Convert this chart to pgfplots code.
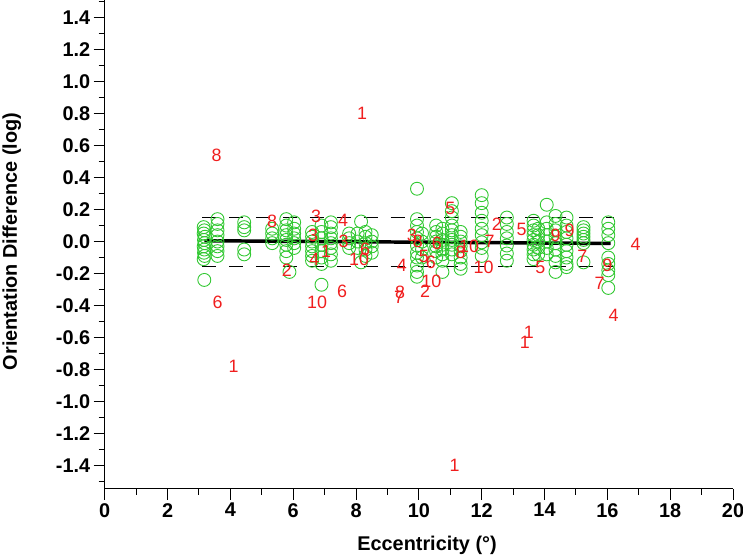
\documentclass[border=0pt]{standalone}
\usepackage{fontspec}
\setmainfont{Liberation Sans}
\usepackage{pgfplots}
\pgfplotsset{compat=1.18}
\usepackage{pgfplotstable}

\definecolor{ptgreen}{RGB}{50,200,50}
\definecolor{ptred}{RGB}{240,30,30}

% green circles: all measurements
\pgfplotstableread{
x y
3.15 0.09
3.17 0.07
3.15 0.05
3.19 0.03
3.16 0.01
3.18 -0.01
3.15 -0.03
3.17 -0.05
3.16 -0.07
3.18 -0.09
3.15 -0.11
3.17 -0.24
3.59 0.14
3.59 0.11
3.59 0.07
3.59 0.04
3.59 0.00
3.59 -0.03
3.59 -0.06
3.59 -0.09
4.44 0.12
4.44 0.09
4.44 0.07
4.44 -0.05
4.44 -0.08
5.33 0.08
5.33 0.05
5.33 0.02
5.33 -0.01
5.78 0.14
5.78 0.10
5.78 0.07
5.78 0.04
5.78 0.01
5.78 -0.02
5.78 -0.06
5.78 -0.10
6.03 0.12
6.03 0.08
6.03 0.05
6.03 0.02
6.03 -0.01
6.03 -0.04
5.88 -0.19
6.60 0.06
6.60 0.03
6.60 0.00
6.60 -0.03
6.60 -0.06
6.60 -0.09
6.60 -0.12
6.90 0.10
6.90 0.06
6.90 0.02
6.90 -0.02
6.90 -0.06
6.90 -0.10
6.90 -0.14
6.90 -0.27
7.20 0.12
7.20 0.09
7.20 0.05
7.20 0.02
7.20 -0.01
7.20 -0.04
7.20 -0.08
7.20 -0.12
7.78 0.05
7.78 0.02
7.78 -0.01
7.78 -0.04
8.05 0.05
8.05 0.00
8.05 -0.04
8.16 0.125
8.16 -0.13
8.30 0.06
8.30 0.03
8.30 -0.01
8.30 -0.05
8.30 -0.09
8.50 0.04
8.50 0.00
8.50 -0.03
8.50 -0.07
9.94 0.33
9.94 0.14
9.94 0.10
9.94 0.06
9.94 0.02
9.94 -0.025
9.94 -0.07
9.94 -0.10
9.94 -0.15
9.94 -0.19
9.94 -0.22
10.10 0.05
10.10 0.00
10.10 -0.05
10.10 -0.10
10.55 0.10
10.55 0.06
10.55 0.03
10.55 0.00
10.55 -0.03
10.55 -0.06
10.55 -0.10
10.75 0.08
10.75 0.05
10.75 0.01
10.75 -0.02
10.75 -0.05
10.75 -0.08
10.75 -0.12
10.75 -0.19
11.05 0.24
11.05 0.19
11.05 0.15
11.05 0.10
11.05 0.07
11.05 0.04
11.05 0.01
11.05 -0.02
11.05 -0.05
11.05 -0.08
11.33 0.06
11.33 0.03
11.33 0.00
11.33 -0.03
11.33 -0.06
11.33 -0.10
11.33 -0.14
11.33 -0.17
12.00 0.29
12.00 0.24
12.00 0.18
12.00 0.13
12.00 0.08
12.00 0.04
12.00 -0.005
12.00 -0.04
12.00 -0.09
12.80 0.15
12.80 0.11
12.80 0.06
12.80 0.02
12.80 -0.025
12.80 -0.075
12.80 -0.12
13.65 0.13
13.65 0.10
13.65 0.07
13.65 0.04
13.65 0.01
13.65 -0.02
13.65 -0.05
13.65 -0.08
13.65 -0.11
13.80 0.08
13.80 0.04
13.80 0.00
13.80 -0.04
13.80 -0.08
14.07 0.23
14.07 0.12
14.07 0.08
14.07 0.04
14.07 0.00
14.07 -0.04
14.07 -0.08
14.35 0.16
14.35 0.11
14.35 0.07
14.35 0.03
14.35 -0.01
14.35 -0.05
14.35 -0.09
14.35 -0.13
14.35 -0.19
14.70 0.15
14.70 0.10
14.70 0.06
14.70 0.02
14.70 -0.02
14.70 -0.06
14.70 -0.10
14.70 -0.14
14.70 -0.16
15.24 0.09
15.24 0.07
15.24 0.05
15.24 0.03
15.24 0.01
15.24 -0.01
15.24 -0.13
16.03 0.12
16.03 0.08
16.03 0.04
16.03 -0.01
16.03 -0.10
16.03 -0.14
16.03 -0.18
16.03 -0.21
16.03 -0.29
}\circles

% red numbers: subject means
\pgfplotstableread{
x y lab
8.19 0.80 1
3.56 0.54 8
3.59 -0.38 6
4.10 -0.78 1
5.80 -0.18 2
5.33 0.125 8
6.73 0.16 3
7.59 0.13 4
6.63 0.04 3
7.05 -0.06 1
7.60 0.00 3
6.67 -0.11 4
8.29 -0.05 6
8.10 -0.11 10
6.76 -0.38 10
7.56 -0.31 6
9.46 -0.15 4
9.40 -0.32 8
9.37 -0.35 7
10.20 -0.31 2
10.40 -0.25 10
9.78 0.04 3
9.97 0.00 8
10.16 -0.09 5
10.38 -0.13 6
10.57 -0.01 6
11.00 0.21 5
11.33 -0.07 8
11.60 -0.03 10
12.25 0.00 7
12.06 -0.16 10
12.48 0.11 2
13.27 0.075 5
13.87 -0.16 5
14.35 0.04 9
14.80 0.07 9
15.20 -0.09 7
16.00 -0.15 9
15.75 -0.26 7
16.90 -0.02 4
16.20 -0.46 4
13.50 -0.57 1
13.37 -0.63 1
11.14 -1.40 1
}\subjects

\begin{document}
\begin{tikzpicture}
\begin{axis}[
  name=ax,
  scale only axis,
  width=630bp, height=490bp,
  xmin=0, xmax=20, ymin=-1.545, ymax=1.51,
  axis x line*=bottom, axis y line*=left,
  axis line style={line width=1pt},
  xtick={0,2,...,20},
  minor xtick={1,3,...,19},
  ytick={-1.4,-1.2,-1,-0.8,-0.6,-0.4,-0.2,0,0.2,0.4,0.6,0.8,1,1.2,1.4},
  minor ytick={-1.5,-1.3,-1.1,-0.9,-0.7,-0.5,-0.3,-0.1,0.1,0.3,0.5,0.7,0.9,1.1,1.3,1.5},
  tick align=outside,
  major tick length=11bp, minor tick length=6bp,
  every tick/.style={black, line width=1pt},
  /pgf/number format/assume math mode=true,
  ticklabel style={font=\bfseries\fontsize{20}{20}\selectfont},
  yticklabel style={/pgf/number format/.cd, fixed, fixed zerofill, precision=1},
  xlabel={Eccentricity (°)},
  ylabel={Orientation Difference (log)},
  xlabel style={font=\bfseries\fontsize{20}{20}\selectfont, at={(axis description cs:0.513,-0.116)}, anchor=center},
  ylabel style={font=\bfseries\fontsize{20}{20}\selectfont, at={(axis description cs:-0.148,0.506)}, anchor=center},
  clip=false,
]
\addplot[only marks, mark=o, mark size=6.5bp, ptgreen, mark options={line width=0.9pt}] table {\circles};
\addplot[black, line width=1.4pt, dash pattern=on 14bp off 13bp] coordinates {(3.1,0.15) (16.2,0.15)};
\addplot[black, line width=1.4pt, dash pattern=on 14bp off 13bp] coordinates {(3.1,-0.155) (16.2,-0.155)};
\addplot[black, line width=3.5pt] coordinates {(3.17,0.005) (16.1,-0.012)};
\addplot[only marks, mark=none, nodes near coords, point meta=explicit symbolic,
  nodes near coords align={center},
  nodes near coords style={ptred, font=\fontsize{18}{18}\selectfont, inner sep=0pt}]
  table[meta=lab] {\subjects};
\end{axis}
\pgfresetboundingbox
\path[use as bounding box] ([shift={(-105bp,-67bp)}]ax.south west) rectangle ([shift={(10bp,0bp)}]ax.north east);
\end{tikzpicture}
\end{document}
